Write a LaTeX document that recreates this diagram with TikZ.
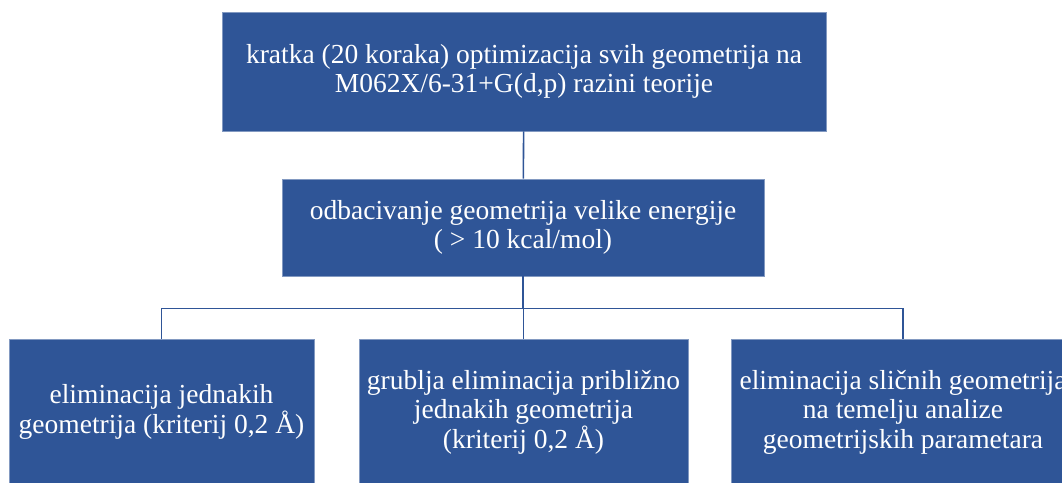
\documentclass[tikz,border=0pt]{standalone}
\usepackage{fontspec}
\setmainfont{Liberation Serif}
\definecolor{boxcolor}{RGB}{47, 85, 151}

\begin{document}
\begin{tikzpicture}[x=1pt, y=-1pt,
                stepbox/.style={rectangle, draw=boxcolor!60!white, line width=0.6pt, fill=boxcolor,
                    text=white, align=center, inner sep=0pt, font=\fontsize{27.5}{29.5}\selectfont},
                link/.style={draw=boxcolor, line width=1.6pt}]
                \useasboundingbox (0,0) rectangle (1062,482);
                \clip (0,0) rectangle (1062,482);
                
                % Top
                \node[stepbox, minimum width=604pt, minimum height=119pt] (top) at (524,71.5)
                    {kratka (20 koraka) optimizacija svih geometrija na\\M062X/6-31+G(d,p) razini teorije};
                
                % Middle
                \node[stepbox, minimum width=482pt, minimum height=97pt] (mid) at (523,227.5)
                    {odbacivanje geometrija velike energije\\( > 10 kcal/mol)};
                
                % Bottom
                \node[stepbox, minimum width=305pt, minimum height=146pt] (b1) at (161.5,412)
                    {eliminacija jednakih\\geometrija (kriterij 0,2 Å)};
                \node[stepbox, minimum width=329pt, minimum height=146pt] (b2) at (523.5,412)
                    {grublja eliminacija približno\\jednakih geometrija\\(kriterij 0,2 Å)};
                \node[stepbox, minimum width=344pt, minimum height=146pt] (b3) at (903,412)
                    {eliminacija sličnih geometrija\\na temelju analize\\geometrijskih parametara};
                
                % Connections
                \draw[link] (top) -- (mid);
                \foreach \i in {1,2,3} {
                    \draw[link] (mid.south) -- ++(0,32) -| (b\i);
                }
                
            \end{tikzpicture}
\end{document}
